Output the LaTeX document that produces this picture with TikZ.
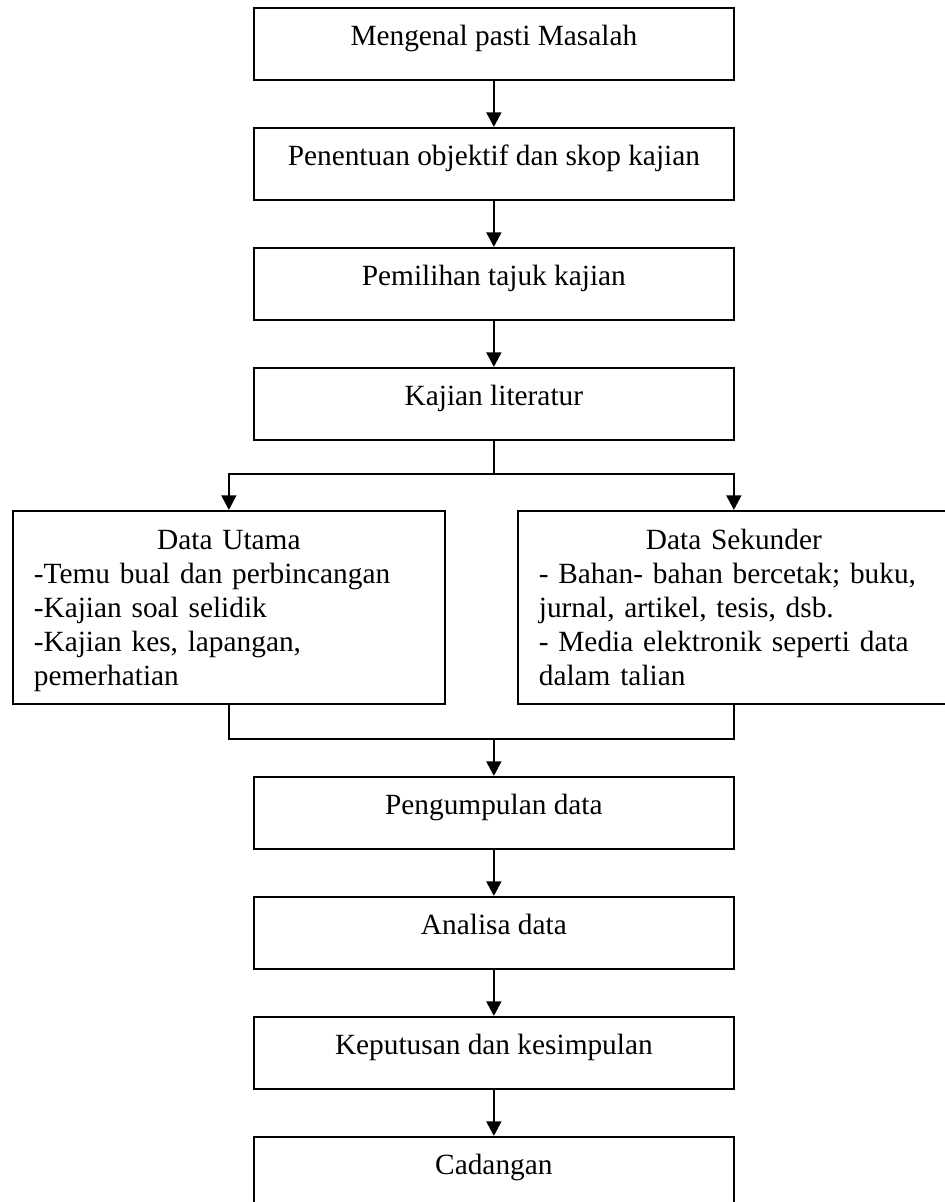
\documentclass[tikz,border=0pt]{standalone}
\usepackage{fontspec}
\setmainfont{Liberation Serif}
\usetikzlibrary{arrows.meta}
\newcommand{\lineL}[1]{\makebox[292.5pt][l]{#1}\par}
\newcommand{\lineC}[1]{\makebox[292.5pt][c]{#1}\par}
\begin{document}
\begin{tikzpicture}[x=0.75pt,y=-0.75pt,
  font=\fontsize{22pt}{25.5pt}\selectfont,
  stepbox/.style={draw, line width=1.3pt, inner sep=0pt, anchor=north west,
    minimum width=360pt, minimum height=54pt, text height=28.5pt, text depth=25.5pt},
  databox/.style={draw, line width=1.3pt, inner xsep=15.75pt, inner ysep=0pt,
    anchor=north west, text width=292.5pt, text height=29.25pt, text depth=115.5pt},
  link/.style={line width=2pt},
  arrowlink/.style={link, -{Triangle[width=11pt,length=11pt]}}]
\useasboundingbox (0,0) rectangle (945,1202);

\node[stepbox] (b1) at (253,7) {Mengenal pasti Masalah};
\node[stepbox] (b2) at (253,127) {Penentuan objektif dan skop kajian};
\node[stepbox] (b3) at (253,247) {Pemilihan tajuk kajian};
\node[stepbox] (b4) at (253,367) {Kajian literatur};

\node[databox] (left) at (12,510) {\lineC{Data Utama}%
  \lineL{-Temu bual dan perbincangan}%
  \lineL{-Kajian soal selidik}%
  \lineL{-Kajian kes, lapangan,}%
  \makebox[292.5pt][l]{pemerhatian}};
\node[databox] (right) at (517,510) {\lineC{Data Sekunder}%
  \lineL{- Bahan- bahan bercetak; buku,}%
  \lineL{jurnal, artikel, tesis, dsb.}%
  \lineL{- Media elektronik seperti data}%
  \makebox[292.5pt][l]{dalam talian}};

\node[stepbox] (b5) at (253,776) {Pengumpulan data};
\node[stepbox] (b6) at (253,896) {Analisa data};
\node[stepbox] (b7) at (253,1016) {Keputusan dan kesimpulan};
\node[stepbox] (b8) at (253,1136) {Cadangan};

\coordinate (split) at (b4.south |- 0,474);
\coordinate (merge) at (b5.north |- 0,739);

\draw[arrowlink] (b1.south) -- (b2.north);
\draw[arrowlink] (b2.south) -- (b3.north);
\draw[arrowlink] (b3.south) -- (b4.north);
\draw[link] (b4.south) -- (split);
\draw[arrowlink] (split) -| (left.north);
\draw[arrowlink] (split) -| (right.north);
\draw[link] (left.south) |- (merge) -| (right.south);
\draw[arrowlink] (merge) -- (b5.north);
\draw[arrowlink] (b5.south) -- (b6.north);
\draw[arrowlink] (b6.south) -- (b7.north);
\draw[arrowlink] (b7.south) -- (b8.north);
\end{tikzpicture}
\end{document}
